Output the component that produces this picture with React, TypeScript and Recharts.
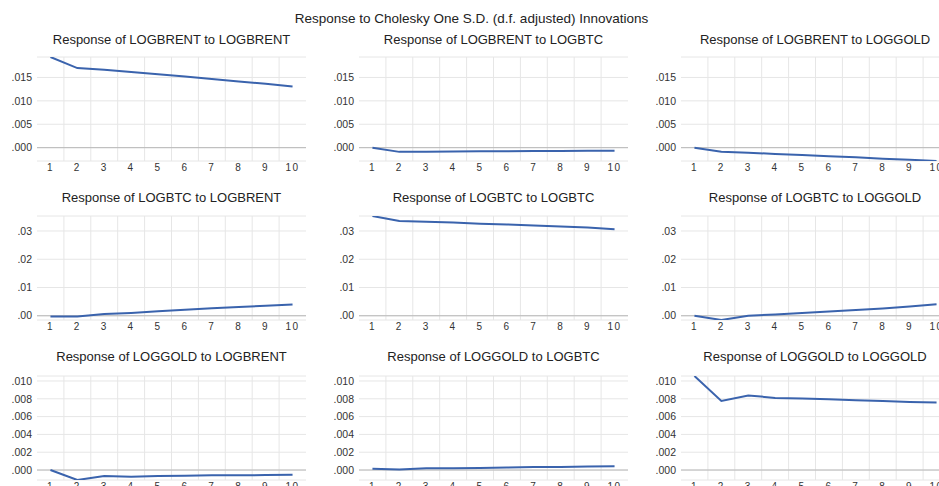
import React from "react"
import {
  LineChart,
  Line,
  XAxis,
  YAxis,
  CartesianGrid,
  ReferenceLine,
} from "recharts"

const periods = [1, 2, 3, 4, 5, 6, 7, 8, 9, 10]

// Row 1: response of LOGBRENT
const brentToBrent = [0.01937, 0.0170, 0.01665, 0.01615, 0.0157, 0.0152, 0.01465, 0.01414, 0.01365, 0.01307]
const brentToBtc = [0, -0.0009, -0.00085, -0.0008, -0.00077, -0.00075, -0.00072, -0.0007, -0.00068, -0.00065]
const brentToGold = [0, -0.00085, -0.00107, -0.00135, -0.00157, -0.00185, -0.00207, -0.00235, -0.00257, -0.00285]

// Row 2: response of LOGBTC
const btcToBrent = [-0.00024, -0.0003, 0.0006, 0.001, 0.0016, 0.0021, 0.0027, 0.0031, 0.0035, 0.004]
const btcToBtc = [0.0353, 0.0335, 0.0333, 0.033, 0.0326, 0.0323, 0.0319, 0.0316, 0.0312, 0.0306]
const btcToGold = [0, -0.0015, 0, 0.00047, 0.00094, 0.0015, 0.002, 0.0026, 0.0033, 0.0041]

// Row 3: response of LOGGOLD
const goldToBrent = [0, -0.00112, -0.00067, -0.00075, -0.00067, -0.00064, -0.0006, -0.0006, -0.00056, -0.00053]
const goldToBtc = [0.00015, 0.00007, 0.00019, 0.0002, 0.00022, 0.00028, 0.00034, 0.00035, 0.0004, 0.00042]
const goldToGold = [0.01056, 0.00775, 0.00838, 0.0081, 0.00802, 0.00794, 0.00783, 0.00775, 0.00764, 0.00757]

const variables = ["LOGBRENT", "LOGBTC", "LOGGOLD"]
const rowSeries = [
  [brentToBrent, brentToBtc, brentToGold],
  [btcToBrent, btcToBtc, btcToGold],
  [goldToBrent, goldToBtc, goldToGold],
]
const rowTicks = [
  [0, 0.005, 0.01, 0.015],
  [0, 0.01, 0.02, 0.03],
  [0, 0.002, 0.004, 0.006, 0.008, 0.01],
]
const rowDecimals = [3, 2, 3]

// layout
const colLeft = [37, 359, 680.5]
const rowTop = [57, 216, 376]
const titleY = [40, 198, 357]
const plotW = 269
const plotH = 104
const yAxisW = 40
const marginTop = 5
const xAxisH = 20

const FONT = "'Liberation Sans', Arial, sans-serif"
const LINE = "#3a63ad"

const fmt = (d: number) => (v: number) => v.toFixed(d).replace(/^0/, "").replace(/^-0/, "-")

// gridlines sit between periods, not on them
const bounds = [1.5, 2.5, 3.5, 4.5, 5.5, 6.5, 7.5, 8.5, 9.5]

function PanelChart({
  title,
  values,
  domain,
  ticks,
  decimals,
  left,
  top,
  titleTop,
}: {
  title: string
  values: number[]
  domain: [number, number]
  ticks: number[]
  decimals: number
  left: number
  top: number
  titleTop: number
}) {
  const data = periods.map((p, i) => ({ period: p, value: values[i] }))
  return (
    <>
      <div
        style={{
          position: "absolute",
          left,
          top: titleTop - 8,
          width: plotW,
          textAlign: "center",
          fontSize: 13,
          lineHeight: "16px",
          color: "#222",
          whiteSpace: "nowrap",
        }}
      >
        {title}
      </div>
      <div style={{ position: "absolute", left: left - yAxisW, top: top - marginTop }}>
        <LineChart
          width={yAxisW + plotW + 5}
          height={marginTop + plotH + xAxisH}
          data={data}
          margin={{ top: marginTop, right: 5, bottom: 0, left: 0 }}
        >
          <CartesianGrid
            stroke="#e6e6e6"
            strokeWidth={1}
            verticalCoordinatesGenerator={({ xAxis, offset }: any) =>
              bounds.map((b) =>
                xAxis && typeof xAxis.scale === "function"
                  ? xAxis.scale(b)
                  : offset.left + (offset.width * (b - 0.5)) / 10
              )
            }
          />
          <XAxis
            dataKey="period"
            type="number"
            domain={[0.5, 10.5]}
            ticks={periods}
            allowDataOverflow
            axisLine={false}
            tickLine={false}
            tickSize={0}
            tickMargin={3}
            height={xAxisH}
            interval={0}
            tick={{ fontSize: 10, fill: "#333", fontFamily: FONT, letterSpacing: 1.5 }}
          />
          <YAxis
            type="number"
            domain={domain}
            ticks={ticks}
            allowDataOverflow
            axisLine={false}
            tickLine={false}
            tickSize={0}
            tickMargin={5}
            width={yAxisW}
            interval={0}
            tickFormatter={fmt(decimals)}
            tick={{ fontSize: 10.5, fill: "#333", fontFamily: FONT }}
          />
          <ReferenceLine y={0} stroke="#b8b8b8" strokeWidth={1} />
          <Line
            type="linear"
            dataKey="value"
            stroke={LINE}
            strokeWidth={2}
            dot={false}
            isAnimationActive={false}
          />
        </LineChart>
      </div>
    </>
  )
}

export default function App() {
  return (
    <div
      style={{
        position: "absolute",
        left: 0,
        top: 0,
        width: 939,
        height: 486,
        overflow: "hidden",
        background: "#fff",
        fontFamily: FONT,
      }}
    >
      <div
        style={{
          position: "absolute",
          left: 0,
          top: 11,
          width: 943,
          textAlign: "center",
          fontSize: 13.5,
          lineHeight: "16px",
          color: "#222",
          whiteSpace: "nowrap",
        }}
      >
        Response to Cholesky One S.D. (d.f. adjusted) Innovations
      </div>
      {rowSeries.map((row, r) => {
        // each row shares one y range, fitted to that row's data
        const all = row.flat()
        const domain: [number, number] = [Math.min(...all), Math.max(...all)]
        return row.map((values, c) => (
          <PanelChart
            key={`${r}-${c}`}
            title={`Response of ${variables[r]} to ${variables[c]}`}
            values={values}
            domain={domain}
            ticks={rowTicks[r]}
            decimals={rowDecimals[r]}
            left={colLeft[c]}
            top={rowTop[r]}
            titleTop={titleY[r]}
          />
        ))
      })}
    </div>
  )
}
